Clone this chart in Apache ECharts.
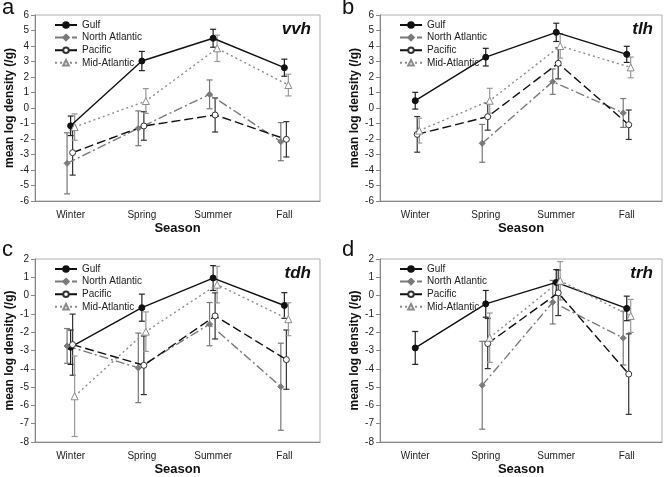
<!DOCTYPE html>
<html>
<head>
<meta charset="utf-8">
<script src="https://cdn.jsdelivr.net/npm/echarts@6/dist/echarts.min.js"></script>
<style>
html,body{margin:0;padding:0;background:#fff;}
#chart{width:664px;height:477px;}
</style>
</head>
<body>
<div id="chart"></div>
<script>
const seasons = ['Winter', 'Spring', 'Summer', 'Fall'];
const regions = ['Gulf', 'North Atlantic', 'Pacific', 'Mid-Atlantic'];
const panelLetters = ['a', 'b', 'c', 'd'];
const panelNames = ['vvh', 'tlh', 'tdh', 'trh'];
const yTicksTop = [-6, 6];
const yTicksBottom = [-8, 2];

// rows: Gulf, North Atlantic, Pacific, Mid-Atlantic ; columns: Winter..Fall
const vvhMean = [
  [-1.15, 3.03, 4.50, 2.60],
  [-3.57, -1.31, 0.88, -2.17],
  [-2.88, -1.16, -0.45, -2.02],
  [-1.23, 0.45, 3.85, 1.48]
];
const vvhErr = [
  [0.63, 0.62, 0.58, 0.55],
  [1.97, 1.12, 0.93, 1.23],
  [1.45, 0.92, 1.10, 1.14],
  [0.85, 0.80, 0.85, 0.70]
];
const tlhMean = [
  [0.47, 3.28, 4.88, 3.46],
  [null, -2.28, 1.70, -0.32],
  [-1.70, -0.56, 2.88, -1.08],
  [-1.46, 0.47, 4.00, 2.62]
];
const tlhErr = [
  [0.54, 0.57, 0.59, 0.52],
  [null, 1.22, 0.82, 0.93],
  [1.15, 0.87, 1.00, 0.95],
  [0.80, 0.80, 0.78, 0.67]
];
const tdhMean = [
  [-2.82, -0.66, 0.96, -0.54],
  [-2.75, -3.95, -1.56, -4.98],
  [-2.68, -3.81, -1.11, -3.50],
  [-5.50, -1.97, 0.60, -1.29]
];
const tdhErr = [
  [0.94, 0.74, 0.68, 0.70],
  [0.95, 1.90, 1.18, 2.38],
  [1.67, 1.60, 1.26, 1.62],
  [2.20, 1.08, 1.00, 0.90]
];
const trhMean = [
  [-2.86, -0.45, 0.72, -0.70],
  [null, -4.90, -0.36, -2.32],
  [null, -2.62, 0.15, -4.29],
  [null, -2.30, 0.81, -1.11]
];
const trhErr = [
  [0.90, 0.73, 0.70, 0.67],
  [null, 2.40, 1.19, 1.47],
  [null, 1.37, 1.24, 2.20],
  [null, 1.35, 1.05, 0.90]
];

const panelMeans = [vvhMean, tlhMean, tdhMean, trhMean];
const panelErrs = [vvhErr, tlhErr, tdhErr, trhErr];

// layout / style (not data)
const FONT = 'Liberation Sans, Arial, sans-serif';
const grids = [
  {left: 35, top: 15, width: 285, height: 186},
  {left: 380, top: 15, width: 282, height: 186},
  {left: 35, top: 259, width: 285, height: 185},
  {left: 380, top: 259, width: 282, height: 185}
];
const jitter = [0, -0.05, 0.028, 0.056];
const seriesStyle = [
  {color: '#111', lineType: 'solid', symbol: 'circle', symbolColor: '#111', fill: '#111', errColor: '#222'},
  {color: '#7a7a7a', lineType: [9, 3, 2, 3], symbol: 'diamond', symbolColor: '#7a7a7a', fill: '#7a7a7a', errColor: '#777'},
  {color: '#111', lineType: [9, 4], symbol: 'circle', symbolColor: '#333', fill: '#fff', errColor: '#333'},
  {color: '#8c8c8c', lineType: [2, 3], symbol: 'triangle', symbolColor: '#8c8c8c', fill: '#fff', errColor: '#999'}
];

const option = {
  animation: false,
  backgroundColor: '#fff',
  grid: [],
  xAxis: [],
  yAxis: [],
  legend: [],
  series: [],
  graphic: []
};

for (let p = 0; p < 4; p++) {
  const g = grids[p];
  option.grid.push({left: g.left, top: g.top, width: g.width, height: g.height,
    show: true, borderColor: '#b0b0b0', borderWidth: 1, backgroundColor: 'transparent', containLabel: false});
  option.xAxis.push({
    type: 'category', gridIndex: p, data: seasons, boundaryGap: true, position: 'bottom',
    axisLine: {show: true, onZero: false, lineStyle: {color: '#888', width: 1}},
    axisTick: {show: false},
    axisLabel: {fontFamily: FONT, fontSize: 10, color: '#222', margin: 9},
    name: 'Season', nameLocation: 'middle', nameGap: 21,
    nameTextStyle: {fontFamily: FONT, fontSize: 13, fontWeight: 'bold', color: '#111'},
    splitLine: {show: false}
  });
  option.xAxis.push({
    type: 'value', gridIndex: p, min: -0.5, max: 3.5, show: false, splitLine: {show: false}
  });
  const yr = p < 2 ? yTicksTop : yTicksBottom;
  option.yAxis.push({
    type: 'value', gridIndex: p, min: yr[0], max: yr[1], interval: 1,
    axisLine: {show: true, onZero: false, lineStyle: {color: '#888', width: 1}},
    axisTick: {show: true, length: 4, lineStyle: {color: '#888'}},
    axisLabel: {fontFamily: FONT, fontSize: 10, color: '#222', margin: 6},
    splitLine: {show: false},
    name: 'mean log density (/g)', nameLocation: 'middle', nameGap: 19,
    nameTextStyle: {fontFamily: FONT, fontSize: 12, fontWeight: 'bold', color: '#111'}
  });
  option.legend.push({
    data: regions, orient: 'vertical', left: g.left + 19, top: g.top + 5,
    padding: 0,
    itemWidth: 22, itemHeight: 7, itemGap: 2.6,
    selectedMode: false,
    textStyle: {fontFamily: FONT, fontSize: 10, color: '#222', lineHeight: 10}
  });

  const means = panelMeans[p];
  const errs = panelErrs[p];
  for (let s = 0; s < 4; s++) {
    const st = seriesStyle[s];
    const pts = [];
    const bars = [];
    for (let i = 0; i < seasons.length; i++) {
      const m = means[s][i];
      const x = i + jitter[s];
      if (m === null) { pts.push([x, null]); continue; }
      pts.push([x, m]);
      const e = errs[s][i];
      bars.push([x, m - e, m + e]);
    }
    option.series.push({
      type: 'line', name: regions[s], xAxisIndex: 2 * p + 1, yAxisIndex: p,
      data: pts, connectNulls: false,
      symbol: st.symbol, symbolSize: st.symbol === 'triangle' ? 7 : 6,
      lineStyle: {color: st.color, width: 1.4, type: st.lineType},
      itemStyle: {color: st.fill, borderColor: st.symbolColor, borderWidth: 1},
      z: 3
    });
    option.series.push({
      type: 'custom', name: 'err-' + regions[s] + '-' + p, xAxisIndex: 2 * p + 1, yAxisIndex: p,
      data: bars, encode: {x: 0, y: [1, 2]}, z: 2,
      renderItem: function (params, api) {
        const lo = api.coord([api.value(0), api.value(1)]);
        const hi = api.coord([api.value(0), api.value(2)]);
        const cw = 3;
        const style = {stroke: st.errColor, lineWidth: 1.2};
        return {
          type: 'group',
          children: [
            {type: 'line', shape: {x1: lo[0], y1: lo[1], x2: hi[0], y2: hi[1]}, style: style},
            {type: 'line', shape: {x1: lo[0] - cw, y1: lo[1], x2: lo[0] + cw, y2: lo[1]}, style: style},
            {type: 'line', shape: {x1: hi[0] - cw, y1: hi[1], x2: hi[0] + cw, y2: hi[1]}, style: style}
          ]
        };
      }
    });
  }

  option.graphic.push({
    type: 'text', left: p % 2 === 0 ? 2 : 342, top: p < 2 ? -3 : 239,
    style: {text: panelLetters[p], font: '22px ' + FONT, fill: '#111'}
  });
  option.graphic.push({
    type: 'text', right: 664 - (g.left + g.width) + 9, top: g.top + 6,
    style: {text: panelNames[p], font: 'italic bold 17px ' + FONT, fill: '#111'}
  });
}

const chart = echarts.init(document.getElementById('chart'), null, {renderer: 'canvas'});
chart.setOption(option);
</script>
</body>
</html>
